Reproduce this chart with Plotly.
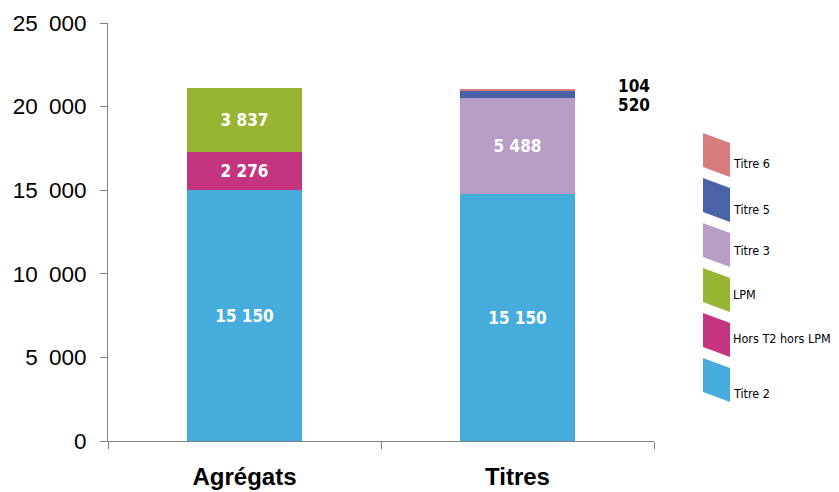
import plotly.graph_objects as go

# ---- data ----
categories = ["Agrégats", "Titres"]

series_names = ["Titre 2", "Hors T2 hors LPM", "LPM", "Titre 3", "Titre 5", "Titre 6"]
# bar heights (None = not present in that bar)
titre2 = [15000, 14770]
hors_t2_hors_lpm = [2276, None]
lpm = [3837, None]
titre3 = [None, 5750]
titre5 = [None, 450]
titre6 = [None, 110]

# labels written on the chart
titre2_labels = ["15 150", "15 150"]
hors_labels = ["2 276", ""]
lpm_labels = ["3 837", ""]
titre3_labels = ["", "5 488"]
titre5_label = "520"
titre6_label = "104"

y_tick_values = [0, 5000, 10000, 15000, 20000, 25000]
y_tick_labels = ["0", "5\u2002000", "10\u2002000", "15\u2002000", "20\u2002000", "25\u2002000"]

colors = {
    "Titre 2": "#46ACDC",
    "Hors T2 hors LPM": "#C5357F",
    "LPM": "#97B533",
    "Titre 3": "#B89DC6",
    "Titre 5": "#4A63A8",
    "Titre 6": "#D97C7F",
}

values = [titre2, hors_t2_hors_lpm, lpm, titre3, titre5, titre6]
labels = [titre2_labels, hors_labels, lpm_labels, titre3_labels, ["", ""], ["", ""]]

COND = "DejaVu Sans Condensed, DejaVu Sans, sans-serif"

fig = go.Figure()
for name, vals, labs in zip(series_names, values, labels):
    fig.add_trace(go.Bar(
        x=categories, y=vals, name=name,
        marker=dict(color=colors[name], line=dict(width=0)),
        text=labs, texttemplate="%{text}",
        textposition="inside", insidetextanchor="middle",
        textangle=0,
        textfont=dict(color="white", size=17, family=COND, weight="bold"),
        width=0.42, showlegend=False, hoverinfo="skip",
    ))

# page offset (body margin) and plot area in page pixels
OFF = 8
L, R, T, B = 108, 654, 23, 441
W, H = 839 - OFF, 492 - OFF

def px(x):
    return (x - L) / (R - L)

def py(y):
    return (B - y) / (B - T)

shapes = []
annotations = []

# outside labels for small Titres segments
total_titres = titre2[1] + titre3[1] + titre5[1] + titre6[1]
annotations.append(dict(x="Titres", y=total_titres, xref="x", yref="y",
                        text=titre6_label, showarrow=False, xanchor="left",
                        yanchor="middle", xshift=98, yshift=3,
                        font=dict(size=17, color="black", family=COND, weight="bold")))
annotations.append(dict(x="Titres", y=total_titres, xref="x", yref="y",
                        text=titre5_label, showarrow=False, xanchor="left",
                        yanchor="middle", xshift=98, yshift=-16,
                        font=dict(size=17, color="black", family=COND, weight="bold")))

# manual legend with slanted swatches
legend_order = list(reversed(series_names))
text_offsets = [30, 31, 27, 26, 25, 35]
for i, name in enumerate(legend_order):
    top = 133 + 45 * i
    x0, x1 = px(703), px(730)
    path = (f"M {x0},{py(top)} L {x1},{py(top + 10)} L {x1},{py(top + 44)} "
            f"L {x0},{py(top + 34)} Z")
    shapes.append(dict(type="path", xref="paper", yref="paper", path=path,
                       fillcolor=colors[name], line=dict(width=0), layer="above"))
    annotations.append(dict(x=px(731), y=py(top + text_offsets[i]), xref="paper", yref="paper",
                            text=name, showarrow=False, xanchor="left", yanchor="middle",
                            font=dict(size=12.5, color="black", family=COND)))

fig.update_layout(
    barmode="stack",
    width=W, height=H,
    margin=dict(l=L - OFF, r=839 - R, t=T - OFF, b=492 - B, pad=0, autoexpand=False),
    plot_bgcolor="white", paper_bgcolor="white",
    shapes=shapes, annotations=annotations,
    uniformtext=dict(minsize=8, mode="show"),
    font=dict(family="Liberation Sans, Arial, sans-serif", color="black"),
)
fig.update_xaxes(
    type="category", range=[-0.5, 1.5], automargin=False,
    showline=True, linecolor="#808080", linewidth=1,
    ticks="outside", ticklen=7, tickcolor="#808080", tickson="boundaries",
    showgrid=False, zeroline=False,
    tickfont=dict(size=24, family="Liberation Sans, Arial, sans-serif", weight="bold"),
    ticklabelstandoff=14,
)
fig.update_yaxes(
    range=[0, 25000], tickvals=y_tick_values, ticktext=y_tick_labels, automargin=False,
    showline=True, linecolor="#808080", linewidth=1,
    ticks="outside", ticklen=7, tickcolor="#808080",
    showgrid=False, zeroline=False,
    tickfont=dict(size=22.5, family="Liberation Sans, Arial, sans-serif"),
    ticklabelstandoff=9,
)

fig.write_html("out.html")
